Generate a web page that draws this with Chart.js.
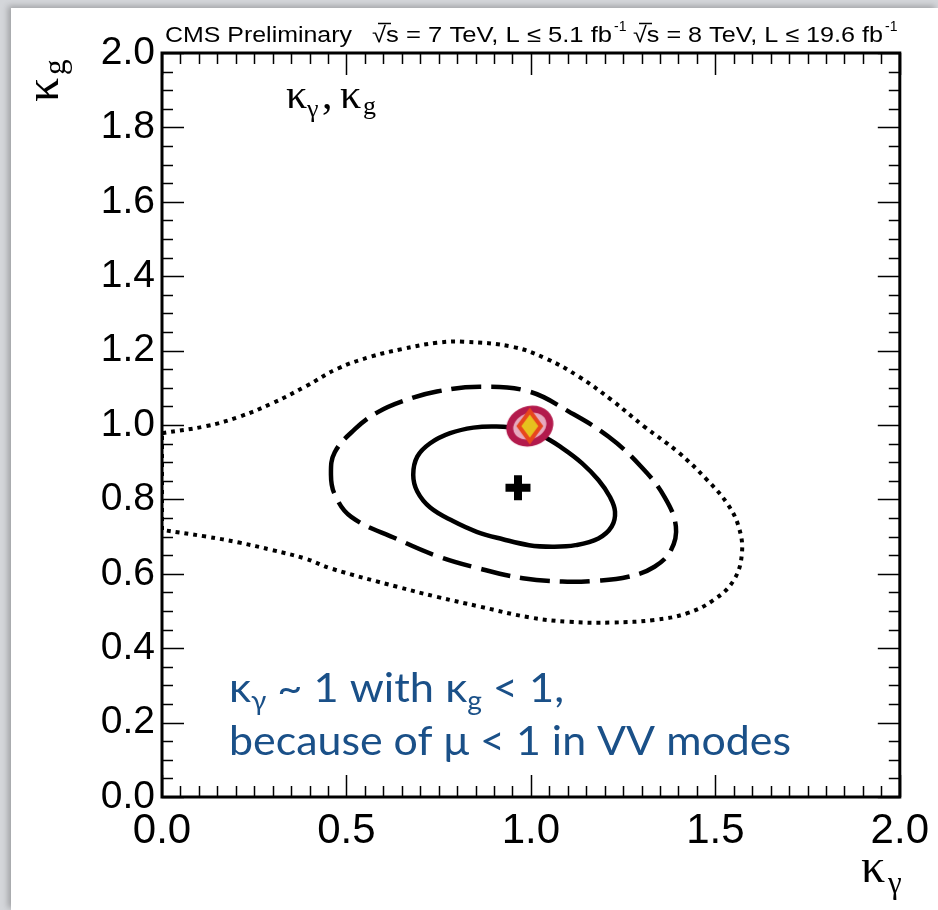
<!DOCTYPE html>
<html>
<head>
<meta charset="utf-8">
<script src="https://cdn.jsdelivr.net/npm/chart.js@4.4.1/dist/chart.umd.min.js"></script>
<style>
  html, body { margin: 0; padding: 0; width: 938px; height: 910px; overflow: hidden; background: #d4d6da; }
  #panel { position: absolute; left: 11px; top: 8px; right: 0; bottom: 0; background: #fff;
           box-shadow: -3px -2px 6px rgba(0,0,0,0.25); }
  #c { position: absolute; left: 0; top: 0; }
</style>
</head>
<body>
<div id="panel"></div>
<canvas id="c" width="938" height="910"></canvas>
<script>
// best fit and SM point
var bestFit = [0.965, 0.831];
var smPoint = [0.997, 0.997];

// 68% CL contour (solid), closed loop
var cl68X = [0.681, 0.692, 0.727, 0.781, 0.844, 0.906, 0.969, 1.031, 1.085, 1.139, 1.183, 1.214, 1.228, 1.219, 1.183, 1.121, 1.058, 0.995, 0.924, 0.853, 0.790, 0.727, 0.692];
var cl68Y = [0.866, 0.915, 0.951, 0.978, 0.993, 0.996, 0.990, 0.970, 0.938, 0.897, 0.852, 0.807, 0.767, 0.727, 0.695, 0.677, 0.673, 0.677, 0.693, 0.713, 0.741, 0.778, 0.821];

// 95% CL contour (dashed), closed loop
var cl95X = [0.458, 0.468, 0.522, 0.584, 0.655, 0.745, 0.861, 0.995, 1.103, 1.210, 1.299, 1.362, 1.393, 1.380, 1.335, 1.264, 1.174, 1.085, 0.978, 0.861, 0.745, 0.638, 0.513, 0.468];
var cl95Y = [0.866, 0.926, 0.988, 1.034, 1.065, 1.090, 1.103, 1.090, 1.036, 0.969, 0.888, 0.807, 0.727, 0.664, 0.619, 0.592, 0.581, 0.579, 0.588, 0.614, 0.648, 0.693, 0.753, 0.814];

// 99.7% CL contour (dotted), open at kappa_gamma = 0
var cl997X = [0.0, 0.120, 0.209, 0.298, 0.388, 0.477, 0.567, 0.650, 0.745, 0.817, 0.951, 1.040, 1.130, 1.219, 1.308, 1.398, 1.478, 1.532, 1.563, 1.572, 1.550, 1.496, 1.424, 1.335, 1.219, 1.103, 0.995, 0.861, 0.745, 0.638, 0.459, 0.388, 0.298, 0.209, 0.120, 0.0];
var cl997Y = [0.978, 0.997, 1.022, 1.058, 1.103, 1.152, 1.184, 1.204, 1.221, 1.224, 1.210, 1.179, 1.130, 1.067, 0.995, 0.928, 0.852, 0.789, 0.727, 0.655, 0.583, 0.530, 0.494, 0.476, 0.469, 0.471, 0.483, 0.512, 0.538, 0.565, 0.614, 0.641, 0.664, 0.684, 0.700, 0.718];
var edgeX = [0.0, 0.0];
var edgeY = [0.718, 0.978];

var xTicks = [0.0, 0.5, 1.0, 1.5, 2.0];
var yTicks = [0.0, 0.2, 0.4, 0.6, 0.8, 1.0, 1.2, 1.4, 1.6, 1.8, 2.0];

function pts(xs, ys) {
  var out = [];
  for (var i = 0; i < xs.length; i++) out.push({x: xs[i], y: ys[i]});
  return out;
}

// SM marker: crimson blob with pink centre and yellow diamond
function smMarker() {
  var cv = document.createElement('canvas');
  cv.width = 58; cv.height = 54;
  var g = cv.getContext('2d');
  g.translate(29, 27);
  g.save();
  g.rotate(-0.35);
  g.beginPath(); g.ellipse(0, 0, 24, 20, 0, 0, Math.PI * 2);
  g.fillStyle = '#b31a4c'; g.fill();
  g.beginPath(); g.ellipse(0, 0, 17, 13, 0, 0, Math.PI * 2);
  g.fillStyle = 'rgba(240,196,212,0.85)'; g.fill();
  g.restore();
  g.beginPath();
  g.moveTo(0, -15); g.lineTo(11, 0); g.lineTo(0, 15); g.lineTo(-11, 0); g.closePath();
  g.fillStyle = '#e6c21e'; g.fill();
  g.lineWidth = 4; g.strokeStyle = '#e8461d'; g.stroke();
  return cv;
}

// draw a run of text pieces squeezed to a given width
function runText(ctx, runs, x, y, width) {
  var total = 0;
  runs.forEach(function(r) { ctx.font = r.f; r.w = ctx.measureText(r.t).width; total += r.w + (r.gap || 0); });
  var sx = width / total;
  ctx.save();
  ctx.translate(x, y);
  ctx.scale(sx, 1);
  var cx = 0;
  runs.forEach(function(r) { ctx.font = r.f; ctx.fillText(r.t, cx, r.dy || 0); cx += r.w + (r.gap || 0); });
  ctx.restore();
}

var framePlugin = {
  id: 'frame',
  beforeDatasetsDraw: function(chart) {
    var ctx = chart.ctx, a = chart.chartArea;
    var xs = chart.scales.x, ys = chart.scales.y;
    ctx.save();
    ctx.strokeStyle = '#000';
    ctx.lineWidth = 1.5;
    ctx.beginPath();
    for (var i = 0; i <= 40; i++) {
      var v = i * 0.05;
      var px = Math.round(xs.getPixelForValue(v)) + 0.5;
      var len = (i % 10 === 0) ? 22 : 11;
      ctx.moveTo(px, a.bottom); ctx.lineTo(px, a.bottom - len);
      ctx.moveTo(px, a.top); ctx.lineTo(px, a.top + len);
      var py = Math.round(ys.getPixelForValue(v)) + 0.5;
      var leny = (i % 4 === 0) ? 22 : 11;
      ctx.moveTo(a.left, py); ctx.lineTo(a.left + leny, py);
      ctx.moveTo(a.right, py); ctx.lineTo(a.right - leny, py);
    }
    ctx.stroke();
    ctx.lineWidth = 3;
    ctx.strokeRect(a.left, a.top, a.right - a.left, a.bottom - a.top);
    ctx.restore();
  },
  afterDraw: function(chart) {
    var ctx = chart.ctx;
    ctx.save();
    ctx.fillStyle = '#000';
    ctx.textBaseline = 'alphabetic';
    ctx.textAlign = 'left';

    // header
    var hf = '22px "Liberation Sans", Arial, sans-serif';
    runText(ctx, [{t: 'CMS Preliminary', f: hf}], 165, 42, 187);
    runText(ctx, [{t: '\u221As = 7 TeV, L \u2264 5.1 fb', f: hf}], 372, 42, 240);
    runText(ctx, [{t: '\u221As = 8 TeV, L \u2264 19.6 fb', f: hf}], 633, 42, 250);
    ctx.font = '14px "Liberation Sans", Arial, sans-serif';
    ctx.fillText('-1', 614, 31);
    ctx.fillText('-1', 885, 31);
    ctx.lineWidth = 1.3;
    ctx.beginPath();
    ctx.moveTo(378, 23.5); ctx.lineTo(391, 23.5);
    ctx.moveTo(639, 23.5); ctx.lineTo(652, 23.5);
    ctx.stroke();

    // in-plot label
    ctx.font = '42px "Liberation Serif", "DejaVu Serif", serif';
    ctx.fillText('\u03BA', 286, 108);
    ctx.fillText(',', 322, 108);
    ctx.fillText('\u03BA', 340, 108);
    ctx.font = '26px "Liberation Serif", "DejaVu Serif", serif';
    ctx.fillText('\u03B3', 307, 117);
    ctx.fillText('g', 363, 114);

    // x axis title
    ctx.font = '48px "Liberation Serif", "DejaVu Serif", serif';
    ctx.fillText('\u03BA', 861, 882);
    ctx.font = '31px "Liberation Serif", "DejaVu Serif", serif';
    ctx.fillText('\u03B3', 888, 893);

    // y axis title
    ctx.save();
    ctx.translate(58, 102);
    ctx.rotate(-Math.PI / 2);
    ctx.font = '48px "Liberation Serif", "DejaVu Serif", serif';
    ctx.fillText('\u03BA', 0, 0);
    ctx.font = '31px "Liberation Serif", "DejaVu Serif", serif';
    ctx.fillText('g', 27, 7);
    ctx.restore();

    // blue comment
    ctx.fillStyle = '#1a5088';
    var bf = '40px Lato, "Open Sans", sans-serif';
    var sf = '26px Lato, "Open Sans", sans-serif';
    runText(ctx, [
      {t: '\u03BA', f: bf}, {t: '\u03B3', f: sf, dy: 8, gap: 10},
      {t: '~ 1 with \u03BA', f: bf}, {t: 'g', f: sf, dy: 8, gap: 10},
      {t: '< 1,', f: bf}
    ], 229, 702, 335);
    runText(ctx, [{t: 'because of \u03BC < 1 in VV modes', f: bf}], 229, 755, 562);
    ctx.restore();
  }
};

var chart = new Chart(document.getElementById('c'), {
  type: 'scatter',
  data: {
    datasets: [
      { label: 'SM', data: [{x: smPoint[0], y: smPoint[1]}], pointStyle: smMarker(), pointRadius: 20, order: 0 },
      { label: 'best fit', data: [{x: bestFit[0], y: bestFit[1]}], pointStyle: 'cross', pointRadius: 12.5,
        pointBorderWidth: 8, borderColor: '#000', backgroundColor: '#000', order: 1 },
      { label: '68% CL', data: pts(cl68X, cl68Y), showLine: true, tension: 0.4, borderColor: '#000',
        borderWidth: 4.5, pointRadius: 0, order: 2 },
      { label: '95% CL', data: pts(cl95X, cl95Y), showLine: true, tension: 0.4, borderColor: '#000',
        borderWidth: 4.5, borderDash: [30, 10], pointRadius: 0, order: 3 },
      { label: '99.7% CL', data: pts(cl997X, cl997Y), showLine: true, tension: 0.4, borderColor: '#000',
        borderWidth: 4, borderDash: [4, 5], pointRadius: 0, order: 4 },
      { label: '99.7% CL edge', data: pts(edgeX, edgeY), showLine: true, tension: 0, borderColor: '#000',
        borderWidth: 4, borderDash: [4, 5], pointRadius: 0, order: 4 }
    ]
  },
  options: {
    responsive: false,
    animation: false,
    events: [],
    layout: { padding: { left: 0, right: 30, top: 53, bottom: 0 } },
    plugins: { legend: { display: false }, tooltip: { enabled: false } },
    scales: {
      x: {
        type: 'linear', min: 0, max: 2,
        afterFit: function(s) { s.height = 113; },
        afterBuildTicks: function(s) { s.ticks = xTicks.map(function(v) { return {value: v}; }); },
        ticks: { color: '#000', padding: 9, maxRotation: 0, autoSkip: false,
                 font: { family: '"Liberation Sans", Arial, sans-serif', size: 42 },
                 callback: function(v) { return v.toFixed(1); } },
        grid: { display: false, drawTicks: false },
        border: { display: false }
      },
      y: {
        type: 'linear', min: 0, max: 2,
        afterFit: function(s) { s.width = 162; },
        afterBuildTicks: function(s) { s.ticks = yTicks.map(function(v) { return {value: v}; }); },
        ticks: { color: '#000', padding: 7, autoSkip: false,
                 font: { family: '"Liberation Sans", Arial, sans-serif', size: 39 },
                 callback: function(v) { return v.toFixed(1); } },
        grid: { display: false, drawTicks: false },
        border: { display: false }
      }
    }
  },
  plugins: [framePlugin]
});

// close the 68% and 95% contours as smooth loops
[2, 3].forEach(function(i) {
  var line = chart.getDatasetMeta(i).dataset;
  line._loop = true;
  line._fullLoop = true;
});
chart.update('none');
</script>
</body>
</html>
